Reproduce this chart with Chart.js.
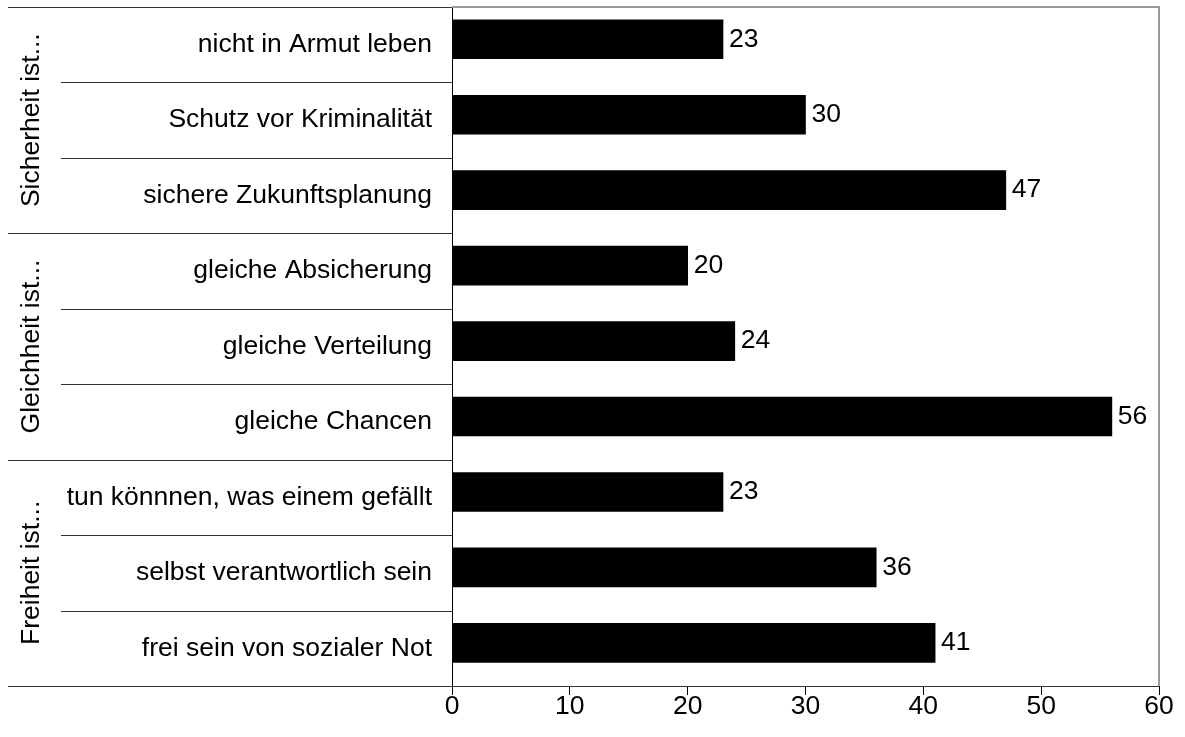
<!DOCTYPE html>
<html>
<head>
<meta charset="utf-8">
<script src="https://cdn.jsdelivr.net/npm/chart.js@4"></script>
<style>
  html, body { margin: 0; padding: 0; background: #fff; }
  #wrap { width: 1185px; height: 737px; }
</style>
</head>
<body>
<div id="wrap"><canvas id="chart" width="1185" height="737"></canvas></div>
<script>
// Data
const categories = [
    'nicht in Armut leben', 'Schutz vor Kriminalität', 'sichere Zukunftsplanung',
    'gleiche Absicherung', 'gleiche Verteilung', 'gleiche Chancen',
    'tun könnnen, was einem gefällt', 'selbst verantwortlich sein', 'frei sein von sozialer Not'
];
const values = [23, 30, 47, 20, 24, 56, 23, 36, 41];
const groupNames = ['Sicherheit ist...', 'Gleichheit ist...', 'Freiheit ist...'];
const groupSizes = [3, 3, 3];
const xTicks = [0, 10, 20, 30, 40, 50, 60];

const FONT = '"Liberation Sans", Arial, sans-serif';
const FS = 26.5;

// bars sit a little above the middle of their row in the original
const barShift = 0.072;

// Plugin: value labels, row separators, group labels, gray frame
const extrasPlugin = {
    id: 'extras',
    afterDatasetsDraw(chart) {
        const ctx = chart.ctx;
        const meta = chart.getDatasetMeta(0);
        ctx.save();
        ctx.font = FS + 'px ' + FONT;
        ctx.fillStyle = '#000';
        ctx.textAlign = 'left';
        ctx.textBaseline = 'middle';
        meta.data.forEach((bar, i) => {
            ctx.fillText(String(values[i]), bar.x + 6, bar.y);
        });
        ctx.restore();
    },
    afterDraw(chart) {
        const ctx = chart.ctx;
        const area = chart.chartArea;
        const y = chart.scales.y;
        const left = 8;
        const innerLeft = 61;

        ctx.save();
        // gray top and right frame
        ctx.strokeStyle = '#999';
        ctx.lineWidth = 2;
        ctx.beginPath();
        ctx.moveTo(area.left, area.top);
        ctx.lineTo(area.right, area.top);
        ctx.lineTo(area.right, area.bottom);
        ctx.stroke();

        // separators
        ctx.strokeStyle = '#333';
        ctx.lineWidth = 1;
        let idx = 0;
        const groupBounds = [];
        groupSizes.forEach((n) => {
            const start = idx;
            for (let k = 0; k <= n; k++) {
                const py = Math.round(y.getPixelForValue(start + k - 0.5)) + 0.5;
                const isGroup = (k === 0 || k === n);
                ctx.beginPath();
                ctx.moveTo(isGroup ? left : innerLeft, py);
                ctx.lineTo(area.left, py);
                ctx.stroke();
            }
            groupBounds.push([y.getPixelForValue(start - 0.5), y.getPixelForValue(start + n - 0.5)]);
            idx += n;
        });

        // group labels (rotated)
        ctx.font = FS + 'px ' + FONT;
        ctx.fillStyle = '#000';
        ctx.textAlign = 'center';
        ctx.textBaseline = 'middle';
        groupBounds.forEach((b, i) => {
            ctx.save();
            ctx.translate(32, (b[0] + b[1]) / 2);
            ctx.rotate(-Math.PI / 2);
            ctx.fillText(groupNames[i], 0, 0);
            ctx.restore();
        });
        ctx.restore();
    }
};

new Chart(document.getElementById('chart').getContext('2d'), {
    type: 'bar',
    data: {
        labels: categories,
        datasets: [{
            data: values.map((v, i) => ({ x: v, y: i })),
            yAxisID: 'yb',
            backgroundColor: '#000',
            borderWidth: 0,
            barThickness: 39
        }]
    },
    options: {
        indexAxis: 'y',
        responsive: false,
        animation: false,
        layout: { padding: { left: 8, right: 26, top: 7, bottom: 0 } },
        plugins: { legend: { display: false }, tooltip: { enabled: false } },
        scales: {
            x: {
                min: 0,
                max: 60,
                afterBuildTicks(scale) { scale.ticks = xTicks.map(v => ({ value: v })); },
                ticks: { color: '#000', font: { family: FONT, size: FS }, padding: -4 },
                grid: { drawOnChartArea: false, drawTicks: true, tickLength: 9, color: '#000' },
                border: { display: true, color: '#333' },
                afterFit(scale) { scale.height = 51; scale.paddingLeft = 0; scale.paddingRight = 0; }
            },
            y: {
                type: 'category',
                ticks: { color: '#000', font: { family: FONT, size: FS }, padding: 20 },
                grid: { drawOnChartArea: false, drawTicks: false },
                border: { display: true, color: '#000' },
                afterFit(scale) { scale.width = 444; scale.paddingTop = 0; scale.paddingBottom = 0; }
            },
            yb: {
                type: 'linear',
                axis: 'y',
                display: false,
                offset: false,
                grid: { offset: false },
                reverse: true,
                min: -0.5 + barShift,
                max: categories.length - 0.5 + barShift
            }
        }
    },
    plugins: [extrasPlugin]
});
</script>
</body>
</html>
